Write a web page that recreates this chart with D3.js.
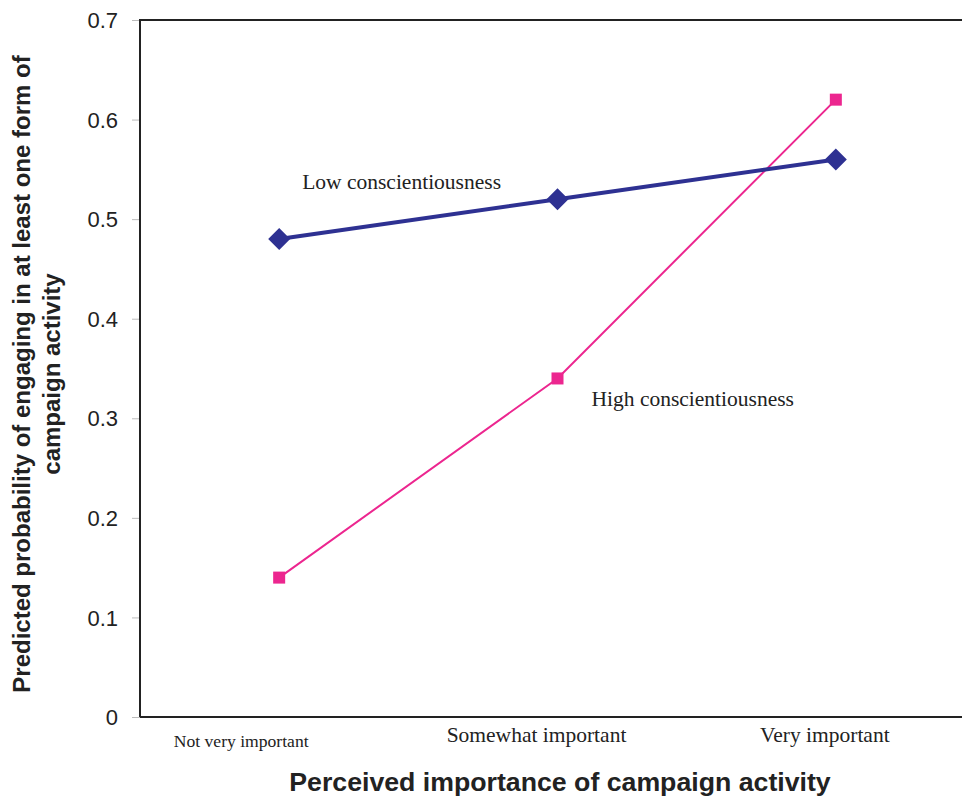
<!DOCTYPE html>
<meta charset="utf-8">
<script src="https://d3js.org/d3.v7.min.js"></script>
<style>
body { margin: 0; background: #fff; }
.yaxis text { font-family: "Liberation Sans", Arial, sans-serif; font-size: 22px; fill: #222; }
.xaxis text { font-family: "Liberation Serif", "Times New Roman", serif; fill: #222; }
</style>
<body>
<div id="canvas"></div>
<script>

    // categorias e valores
    var categories = ["Not very important", "Somewhat important", "Very important"];
    var lowValues = [0.48, 0.52, 0.56];
    var highValues = [0.14, 0.34, 0.62];
    var yTicks = [0, 0.1, 0.2, 0.3, 0.4, 0.5, 0.6, 0.7];

    var width = 962;
    var height = 796;
    var margin = {top: 20, right: -13, bottom: 79, left: 140};
    var w = width - margin.left - margin.right;
    var h = height - margin.top - margin.bottom;

    var svg = d3.select('#canvas')
        .append("svg")
        .attr("width", width)
        .attr("height", height);

    var g = svg.append("g")
        .attr("transform", "translate(" + margin.left + "," + margin.top + ")");

    // escala Y
    var y = d3.scaleLinear()
        .domain([0, 0.7])
        .range([h, 0]);

    // escala X (categorias)
    var x = d3.scaleBand()
        .domain(categories)
        .range([0, w]);
    function cx(d) { return x(d) + x.bandwidth() / 2; }

    // eixo Y
    var yAxis = g.append("g")
        .attr("class", "yaxis")
        .call(d3.axisLeft(y).tickValues(yTicks).tickSize(8).tickPadding(14)
            .tickFormat(function(d) { return d === 0 ? "0" : d3.format(".1f")(d); }));
    yAxis.select(".domain").remove();
    yAxis.selectAll("line").attr("stroke", "#bbb");
    yAxis.selectAll("text").attr("dy", "0.35em");

    // moldura: linha esquerda, topo e base
    g.append("path")
        .attr("d", "M0," + h + "V0H" + (w + 20))
        .attr("fill", "none")
        .attr("stroke", "#222")
        .attr("stroke-width", 2);
    g.append("line")
        .attr("x1", 0).attr("x2", w + 20)
        .attr("y1", y(0)).attr("y2", y(0))
        .attr("stroke", "#222")
        .attr("stroke-width", 2);

    // eixo X - so os textos
    var xAxis = g.append("g")
        .attr("class", "xaxis")
        .attr("transform", "translate(0," + h + ")")
        .call(d3.axisBottom(x).tickSize(0));
    xAxis.select(".domain").remove();
    var labelShift = [-38, -21, -11];
    var labelSize = [17.6, 21.5, 21.5];
    var labelBase = [30, 25, 25];
    xAxis.selectAll("text")
        .attr("dx", function(d, i) { return labelShift[i]; })
        .attr("y", function(d, i) { return labelBase[i]; })
        .attr("dy", 0)
        .style("font-size", function(d, i) { return labelSize[i] + "px"; });

    // linhas
    var line = d3.line()
        .x(function(d, i) { return cx(categories[i]); })
        .y(function(d) { return y(d); });

    g.append("path")
        .datum(highValues)
        .attr("d", line)
        .attr("fill", "none")
        .attr("stroke", "#ec268f")
        .attr("stroke-width", 2);

    g.append("path")
        .datum(lowValues)
        .attr("d", line)
        .attr("fill", "none")
        .attr("stroke", "#2e3192")
        .attr("stroke-width", 4);

    // marcadores
    g.selectAll(".sq")
        .data(highValues)
        .enter()
        .append("rect")
        .attr("class", "sq")
        .attr("x", function(d, i) { return cx(categories[i]) - 6; })
        .attr("y", function(d) { return y(d) - 6; })
        .attr("width", 12)
        .attr("height", 12)
        .attr("fill", "#ec268f");

    g.selectAll(".dm")
        .data(lowValues)
        .enter()
        .append("path")
        .attr("class", "dm")
        .attr("transform", function(d, i) { return "translate(" + cx(categories[i]) + "," + y(d) + ")"; })
        .attr("d", "M0,-11L11,0L0,11L-11,0Z")
        .attr("fill", "#2e3192");

    // rotulos das series
    g.append("text")
        .attr("x", cx(categories[0]) + 23)
        .attr("y", y(lowValues[0]) - 50)
        .style("font-family", "'Liberation Serif', serif")
        .style("font-size", "21.5px")
        .attr("fill", "#222")
        .text("Low conscientiousness");

    g.append("text")
        .attr("x", cx(categories[1]) + 34)
        .attr("y", y(highValues[1]) + 28)
        .style("font-family", "'Liberation Serif', serif")
        .style("font-size", "21.5px")
        .attr("fill", "#222")
        .text("High conscientiousness");

    // titulos dos eixos
    svg.append("text")
        .attr("x", 560)
        .attr("y", 791)
        .attr("text-anchor", "middle")
        .style("font-family", "'Liberation Sans', Arial, sans-serif")
        .style("font-weight", "bold")
        .style("font-size", "26.7px")
        .attr("fill", "#222")
        .text("Perceived importance of campaign activity");

    var yTitle = svg.append("text")
        .attr("transform", "translate(30,374) rotate(-90)")
        .attr("text-anchor", "middle")
        .style("font-family", "'Liberation Sans', Arial, sans-serif")
        .style("font-weight", "bold")
        .style("font-size", "24px")
        .attr("fill", "#222");
    yTitle.append("tspan").attr("x", 0).attr("dy", 0)
        .text("Predicted probability of engaging in at least one form of");
    yTitle.append("tspan").attr("x", 0).attr("dy", 30)
        .text("campaign activity");

</script>
</body>
